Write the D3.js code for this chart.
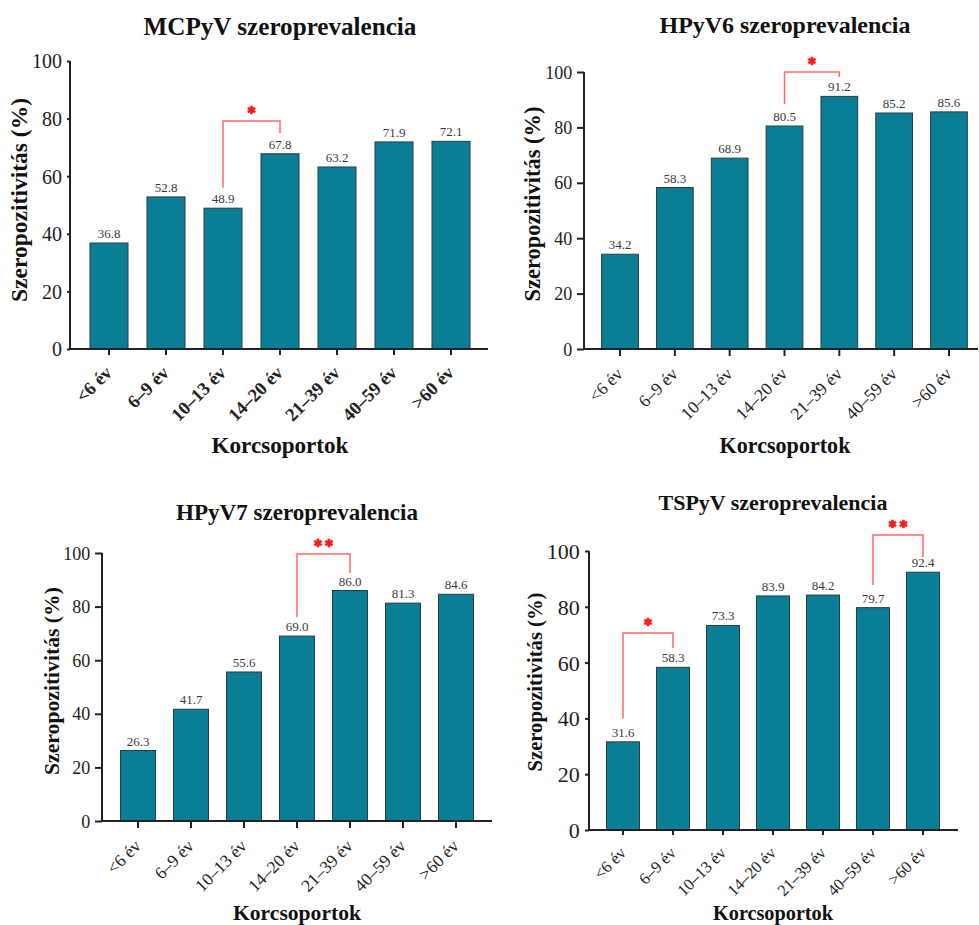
<!DOCTYPE html>
<html>
<head>
<meta charset="utf-8">
<script src="https://cdn.jsdelivr.net/npm/d3@7"></script>
<style>
  html, body { margin: 0; padding: 0; background: #fff; }
  svg { display: block; }
  text { font-family: "Liberation Serif", "Times New Roman", serif; }
</style>
</head>
<body>
<svg id="chart" width="979" height="925"></svg>
<script>
// ---------- data ----------
const categories = ["<6 év", "6–9 év", "10–13 év", "14–20 év", "21–39 év", "40–59 év", ">60 év"];
const titles = ["MCPyV szeroprevalencia", "HPyV6 szeroprevalencia", "HPyV7 szeroprevalencia", "TSPyV szeroprevalencia"];
const mcpyvValues = [36.8, 52.8, 48.9, 67.8, 63.2, 71.9, 72.1];
const hpyv6Values = [34.2, 58.3, 68.9, 80.5, 91.2, 85.2, 85.6];
const hpyv7Values = [26.3, 41.7, 55.6, 69.0, 86.0, 81.3, 84.6];
const tspyvValues = [31.6, 58.3, 73.3, 83.9, 84.2, 79.7, 92.4];
const yTicks = [0, 20, 40, 60, 80, 100];
const yAxisLabel = "Szeropozitivitás (%)";
const xAxisLabel = "Korcsoportok";
// significance brackets: [fromIndex, toIndex, topValue, leftBottomValue, rightBottomValue, stars]
const mcpyvBrackets = [[2, 3, 79.2, 56, 75, "*"]];
const hpyv6Brackets = [[3, 4, 100, 88.4, 98.2, "*"]];
const hpyv7Brackets = [[3, 4, 99.6, 76, 92.5, "**"]];
const tspyvBrackets = [[0, 1, 70.6, 40, 65.2, "*"], [5, 6, 105.7, 87.8, 97.8, "**"]];

// ---------- layout (per panel) ----------
const panels = [
  { values: mcpyvValues, brackets: mcpyvBrackets, title: titles[0],
    axisX: 70, y0: 349, y100: 61, xEnd: 488, band: [80.5, 479.5], pad: 0.333,
    yTickLen: 3, xTickLen: 6, tickFont: 20, xFont: 18.5, xBold: true,
    titleX: 280, titleY: 35, titleW: 273,
    yLabX: 20, yLabY: 200, yLabW: 204, xLabX: 280, xLabY: 453, xLabW: 137 },
  { values: hpyv6Values, brackets: hpyv6Brackets, title: titles[1],
    axisX: 584, y0: 349, y100: 72, xEnd: 978, band: [592.6, 976.4], pad: 0.33,
    yTickLen: 7, xTickLen: 7, tickFont: 18, xFont: 17.5, xBold: false,
    titleX: 785, titleY: 33, titleW: 251,
    yLabX: 533, yLabY: 204, yLabW: 195, xLabX: 785, xLabY: 453, xLabW: 131 },
  { values: hpyv7Values, brackets: hpyv7Brackets, title: titles[2],
    axisX: 102, y0: 821, y100: 553, xEnd: 492, band: [111.5, 482.5], pad: 0.34,
    yTickLen: 7, xTickLen: 7, tickFont: 18, xFont: 17.5, xBold: false,
    titleX: 297, titleY: 520, titleW: 242,
    yLabX: 52, yLabY: 681, yLabW: 188, xLabX: 297, xLabY: 920, xLabW: 128 },
  { values: tspyvValues, brackets: tspyvBrackets, title: titles[3],
    axisX: 589, y0: 830, y100: 551, xEnd: 958, band: [598, 948], pad: 0.34,
    yTickLen: 4, xTickLen: 5, tickFont: 22, xFont: 16.5, xBold: false,
    titleX: 773, titleY: 510, titleW: 229,
    yLabX: 535, yLabY: 682, yLabW: 179, xLabX: 773, xLabY: 920, xLabW: 120 }
];

const FONT = '"Liberation Serif", "Times New Roman", serif';
const BAR = "#0a7e95";
const BAR_STROKE = "#2b3d42";
const AXIS = "#222";
const BRACKET = "#ff6b6b";
const STAR = "#ff1a1a";

const svg = d3.select("#chart");

function fitText(sel, baseSize, targetW) {
  sel.style("font-size", baseSize + "px");
  const w = sel.node().getComputedTextLength();
  if (w > 0) sel.style("font-size", (baseSize * targetW / w).toFixed(2) + "px");
  return sel;
}

panels.forEach(p => {
  const g = svg.append("g");
  const x = d3.scaleBand().domain(categories).range(p.band).paddingInner(p.pad).paddingOuter(p.pad / 2);
  const y = d3.scaleLinear().domain([0, 100]).range([p.y0, p.y100]);

  // bars
  g.selectAll("rect.bar").data(p.values).join("rect")
    .attr("class", "bar")
    .attr("x", (d, i) => x(categories[i]))
    .attr("width", x.bandwidth())
    .attr("y", d => y(d))
    .attr("height", d => p.y0 - y(d))
    .attr("fill", BAR)
    .attr("stroke", BAR_STROKE)
    .attr("stroke-width", 1);

  // value labels
  g.selectAll("text.val").data(p.values).join("text")
    .attr("class", "val")
    .attr("x", (d, i) => x(categories[i]) + x.bandwidth() / 2)
    .attr("y", d => y(d) - 5)
    .attr("text-anchor", "middle")
    .style("font-size", "13px")
    .attr("fill", "#3a3a3a")
    .text(d => d.toFixed(1));

  // y axis
  const yAxis = d3.axisLeft(y).tickValues(yTicks).tickSize(p.yTickLen).tickPadding(p.tickFont * 0.15 + 2).tickSizeOuter(0);
  const ya = g.append("g").attr("transform", `translate(${p.axisX},0)`).call(yAxis)
    .attr("font-family", FONT);
  ya.select(".domain").attr("stroke", AXIS).attr("stroke-width", 2)
    .attr("d", `M0,${p.y0 + 1}V${p.y100}`);
  ya.selectAll(".tick line").attr("stroke", AXIS).attr("stroke-width", 2);
  ya.selectAll(".tick text").attr("fill", "#222")
    .style("font-family", FONT)
    .style("font-size", p.tickFont + "px")
    .attr("dy", "0.34em");

  // x axis
  const xAxis = d3.axisBottom(x).tickSize(p.xTickLen).tickSizeOuter(0).tickFormat(() => "");
  const xa = g.append("g").attr("transform", `translate(0,${p.y0})`).call(xAxis);
  xa.select(".domain").attr("stroke", AXIS).attr("stroke-width", 2)
    .attr("d", `M${p.axisX - 1},0H${p.xEnd}`);
  xa.selectAll(".tick line").attr("stroke", AXIS).attr("stroke-width", 2);

  // x tick labels rotated
  g.selectAll("text.xl").data(categories).join("text")
    .attr("class", "xl")
    .attr("text-anchor", "end")
    .attr("transform", d => `translate(${x(d) + x.bandwidth() / 2 + 4},${p.y0 + p.xTickLen + 19}) rotate(-45)`)
    .style("font-size", p.xFont + "px")
    .style("font-weight", p.xBold ? "bold" : "normal")
    .attr("fill", "#222")
    .text(d => d);

  // title
  const t = g.append("text").attr("x", p.titleX).attr("y", p.titleY)
    .attr("text-anchor", "middle").style("font-weight", "bold").attr("fill", "#111").text(p.title);
  fitText(t, 22, p.titleW);

  // y label
  const yl = g.append("text")
    .attr("transform", `translate(${p.yLabX + 7},${p.yLabY}) rotate(-90)`)
    .attr("text-anchor", "middle").style("font-weight", "bold").attr("fill", "#111").text(yAxisLabel);
  fitText(yl, 19, p.yLabW);

  // x label
  const xl = g.append("text").attr("x", p.xLabX).attr("y", p.xLabY)
    .attr("text-anchor", "middle").style("font-weight", "bold").attr("fill", "#111").text(xAxisLabel);
  fitText(xl, 21, p.xLabW);

  // brackets
  p.brackets.forEach(b => {
    const [i0, i1, top, lb, rb, stars] = b;
    const x0 = x(categories[i0]) + x.bandwidth() / 2;
    const x1 = x(categories[i1]) + x.bandwidth() / 2;
    g.append("path")
      .attr("d", `M${x0},${y(lb)}V${y(top)}H${x1}V${y(rb)}`)
      .attr("fill", "none").attr("stroke", BRACKET).attr("stroke-width", 1.5);
    const n = stars.length;
    const cx = (x0 + x1) / 2;
    for (let k = 0; k < n; k++) {
      const sx = cx + (k - (n - 1) / 2) * 11;
      g.append("path")
        .attr("d", d3.symbol(d3.symbolAsterisk, 50)())
        .attr("transform", `translate(${sx},${y(top) - 11})`)
        .attr("fill", "none").attr("stroke", STAR).attr("stroke-width", 2.6);
    }
  });
});
</script>
</body>
</html>
